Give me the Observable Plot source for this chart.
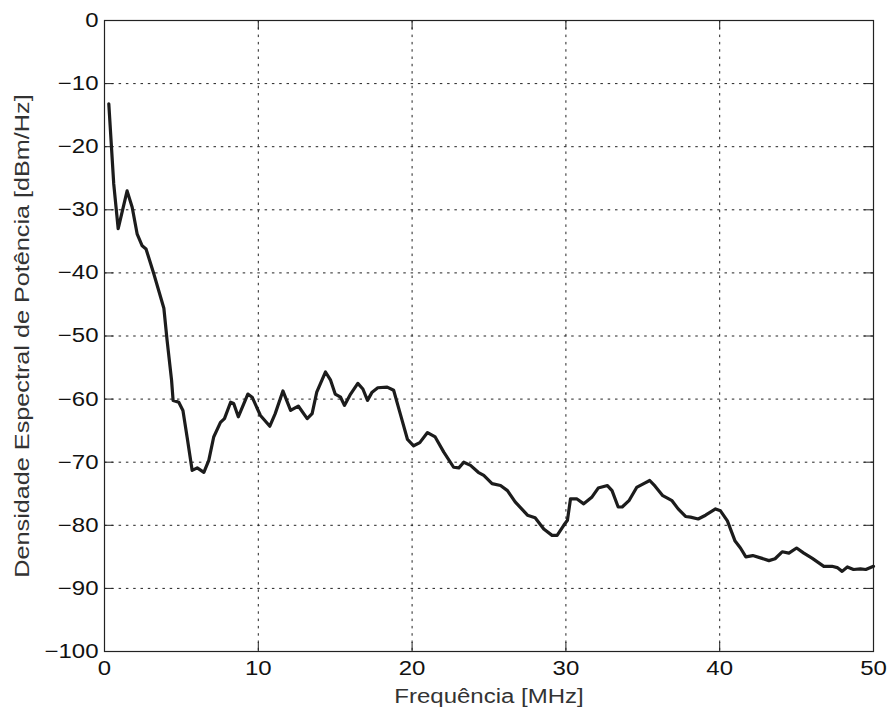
<!DOCTYPE html>
<html>
<head>
<meta charset="utf-8">
<script src="https://cdn.jsdelivr.net/npm/d3@7"></script>
<script src="https://cdn.jsdelivr.net/npm/@observablehq/plot@0.6"></script>
<style>
  html, body { margin: 0; padding: 0; background: #fff; }
</style>
</head>
<body>
<div id="chart"></div>
<script>
const freq = [0.28,0.6,0.89,1.47,1.8,2.12,2.45,2.7,3.2,3.86,4.07,4.36,4.46,4.83,5.1,5.37,5.7,6.03,6.46,6.78,7.1,7.54,7.8,8.2,8.4,8.7,9.32,9.6,10.14,10.75,11.1,11.6,12.1,12.6,13.18,13.5,13.8,14.37,14.7,15.0,15.35,15.6,16.0,16.47,16.8,17.1,17.4,17.77,18.38,18.8,19.25,19.7,20.1,20.5,21.0,21.5,22.06,22.7,23.04,23.36,23.8,24.3,24.66,25.2,25.75,26.2,26.7,27.2,27.5,28.0,28.56,29.1,29.43,29.86,30.1,30.3,30.7,31.16,31.7,32.1,32.7,33.0,33.4,33.66,34.1,34.6,35.06,35.45,35.8,36.3,36.9,37.3,37.78,38.1,38.6,39.08,39.73,40.05,40.5,41.0,41.35,41.7,42.15,42.7,43.2,43.6,44.06,44.5,45.0,45.47,46.0,46.77,47.3,47.64,47.96,48.3,48.7,49.15,49.5,50.0];
const psd = [-13.2,-25.9,-33.0,-27.0,-29.6,-33.8,-35.7,-36.2,-40.1,-45.6,-50.7,-57.0,-60.2,-60.5,-61.8,-66.0,-71.3,-70.9,-71.6,-69.7,-66.0,-63.7,-63.1,-60.5,-60.7,-62.8,-59.2,-59.7,-62.6,-64.3,-62.3,-58.7,-61.8,-61.1,-63.1,-62.3,-58.9,-55.7,-57.0,-59.2,-59.7,-61.0,-59.2,-57.5,-58.4,-60.2,-58.9,-58.2,-58.1,-58.6,-62.5,-66.4,-67.4,-66.9,-65.3,-66.0,-68.4,-70.8,-70.9,-70.0,-70.5,-71.6,-72.1,-73.4,-73.7,-74.5,-76.3,-77.6,-78.4,-78.8,-80.6,-81.6,-81.6,-80.0,-79.2,-75.8,-75.8,-76.6,-75.5,-74.1,-73.7,-74.5,-77.1,-77.1,-76.1,-74.0,-73.4,-72.9,-73.8,-75.3,-76.1,-77.4,-78.6,-78.7,-79.0,-78.4,-77.4,-77.7,-79.3,-82.5,-83.6,-85.0,-84.8,-85.2,-85.6,-85.3,-84.2,-84.4,-83.6,-84.4,-85.2,-86.5,-86.5,-86.7,-87.3,-86.6,-87.0,-86.9,-87.0,-86.5];
const xTicks = [0, 10, 20, 30, 40, 50];
const yTicks = [0, -10, -20, -30, -40, -50, -60, -70, -80, -90, -100];
const xLabel = "Frequência [MHz]";
const yLabel = "Densidade Espectral de Potência [dBm/Hz]";

const data = freq.map((f, i) => ({f, p: psd[i]}));
const W = 887, H = 709;
const mL = 104, mR = 14, mT = 20, mB = 58;
const innerW = W - mL - mR, innerH = H - mT - mB;
const tick = 9;
const grid = {stroke: "#222", strokeOpacity: 1, strokeWidth: 1, strokeDasharray: "2.5,4.8"};

const chart = Plot.plot({
  width: W, height: H,
  marginLeft: mL, marginRight: mR, marginTop: mT, marginBottom: mB,
  style: {fontFamily: "'Liberation Sans', Arial, sans-serif", fontSize: "20px", background: "#fff", color: "#111"},
  x: {domain: [0, 50]},
  y: {domain: [-100, 0]},
  marks: [
    Plot.ruleX(xTicks.slice(1, -1), grid),
    Plot.ruleY(yTicks.slice(1, -1), grid),
    Plot.ruleX(xTicks, {stroke: "#222", insetTop: innerH - tick}),
    Plot.ruleX(xTicks, {stroke: "#222", insetBottom: innerH - tick}),
    Plot.ruleY(yTicks, {stroke: "#222", insetRight: innerW - tick}),
    Plot.ruleY(yTicks, {stroke: "#222", insetLeft: innerW - tick}),
    Plot.frame({stroke: "#222", strokeWidth: 1.2}),
    Plot.axisX(xTicks, {tickSize: 0, tickPadding: 9, label: null, fill: "#111", tickFormat: d => d3.format("d")(d)}),
    Plot.axisY(yTicks, {tickSize: 0, tickPadding: 6, label: null, fill: "#111", tickFormat: d => (d < 0 ? "\u2212" + Math.abs(d) : String(d))}),
    Plot.line(data, {x: "f", y: "p", stroke: "#1c1c1c", strokeWidth: 3.2, strokeLinejoin: "round"}),
    Plot.text([xLabel], {frameAnchor: "bottom", dy: 51, lineAnchor: "bottom", textAnchor: "middle", fill: "#333", fontSize: 20}),
    Plot.text([yLabel], {frameAnchor: "left", dx: -82, rotate: -90, lineAnchor: "middle", textAnchor: "middle", fill: "#333", fontSize: 20, className: "ylabel"})
  ]
});

document.getElementById("chart").appendChild(chart);

// widen glyphs along the reading direction to match the reference's wide sans-serif text
chart.querySelectorAll("text").forEach(t => {
  const len = t.getComputedTextLength();
  if (len > 0) {
    const k = t.closest(".ylabel") ? 1.26 : 1.2;
    t.setAttribute("textLength", (len * k).toFixed(1));
    t.setAttribute("lengthAdjust", "spacingAndGlyphs");
  }
});
</script>
</body>
</html>
